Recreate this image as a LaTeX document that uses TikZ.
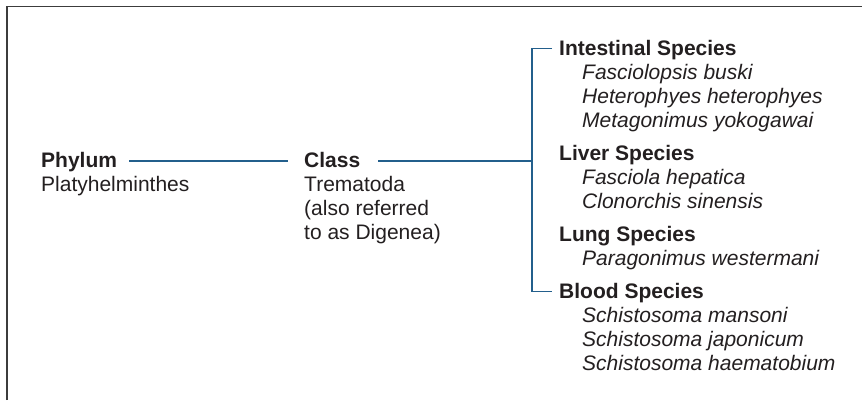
\documentclass[tikz,border=0pt]{standalone}
\usepackage{fontspec}
\setmainfont{Liberation Sans}
\usepackage{tikz}
\usetikzlibrary{positioning}
\usepackage{xcolor}
\definecolor{branchblue}{RGB}{35,95,140}
\definecolor{inkcolor}{RGB}{35,31,32}
\definecolor{framecolor}{RGB}{60,60,60}

\begin{document}
\begin{tikzpicture}
  \tikzset{
    rank/.style={
      anchor=base west,
      inner sep=0pt,
      text=inkcolor,
      font=\fontsize{21pt}{24pt}\selectfont\bfseries
    },
    plain/.style={
      anchor=base west,
      inner sep=0pt,
      text=inkcolor,
      font=\fontsize{21pt}{24pt}\selectfont
    },
    taxon/.style={
      anchor=base west,
      inner sep=0pt,
      text=inkcolor,
      font=\fontsize{21pt}{24pt}\selectfont\itshape
    },
    branch/.style={
      draw=branchblue,
      line width=1.5pt
    },
    frame/.style={
      draw=framecolor,
      line width=1.6pt
    }
  }
  \useasboundingbox (0,0) rectangle (862pt,-400pt);

  % Frame (top and left edges only)
  \draw[frame] (7pt,-400pt) -- (7pt,-6.5pt) -- (862pt,-6.5pt);

  % Phylum
  \node[rank] at (41pt,-167pt) (phylum) {Phylum};
  \node[plain] at (41pt,-191pt) (phylumname) {Platyhelminthes};

  % Class
  \node[rank] at (304pt,-167pt) (class) {Class};
  \node[plain] at (304pt,-191pt) (classname) {Trematoda};
  \node[plain] at (304pt,-215pt) (classnote) {(also referred};
  \node[plain] at (304pt,-239pt) (classnotetwo) {to as Digenea)};

  % Intestinal species
  \node[rank] at (559pt,-55pt) (intestinal) {Intestinal Species};
  \node[taxon] at (582pt,-79pt) (fbuski) {Fasciolopsis buski};
  \node[taxon] at (582pt,-103pt) (hheterophyes) {Heterophyes heterophyes};
  \node[taxon] at (582pt,-127pt) (myokogawai) {Metagonimus yokogawai};

  % Liver species
  \node[rank] at (559pt,-160pt) (liver) {Liver Species};
  \node[taxon] at (582pt,-184pt) (fhepatica) {Fasciola hepatica};
  \node[taxon] at (582pt,-208pt) (csinensis) {Clonorchis sinensis};

  % Lung species
  \node[rank] at (559pt,-241pt) (lung) {Lung Species};
  \node[taxon] at (582pt,-265pt) (pwestermani) {Paragonimus westermani};

  % Blood species
  \node[rank] at (559pt,-298pt) (blood) {Blood Species};
  \node[taxon] at (582pt,-322pt) (smansoni) {Schistosoma mansoni};
  \node[taxon] at (582pt,-346pt) (sjaponicum) {Schistosoma japonicum};
  \node[taxon] at (582pt,-370pt) (shaematobium) {Schistosoma haematobium};

  % Connectors
  \coordinate (trunkmid) at (532pt,-161pt);
  \coordinate (trunkbot) at (532pt,-291.5pt);
  \draw[branch] ([xshift=12pt,yshift=6pt]phylum.base east)
    -- ([xshift=-16pt,yshift=6pt]class.base west);
  \draw[branch] ([xshift=18pt,yshift=6pt]class.base east) -- (trunkmid);
  \draw[branch] ([xshift=-7pt,yshift=6.5pt]intestinal.base west) -| (trunkbot)
    -- ([xshift=-7pt,yshift=6.5pt]blood.base west);

\end{tikzpicture}
\end{document}
